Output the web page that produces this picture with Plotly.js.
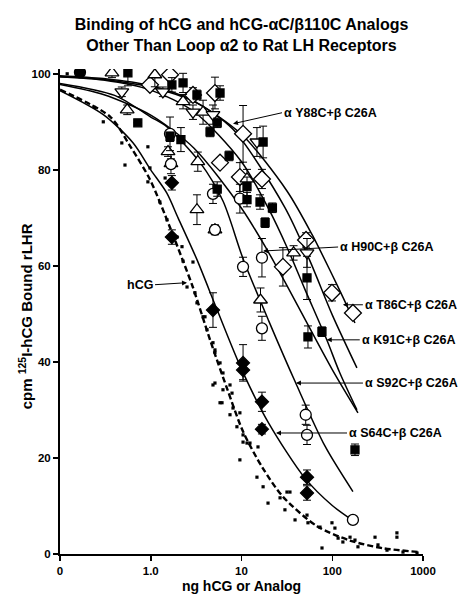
<!DOCTYPE html>
<html><head><meta charset="utf-8">
<script src="https://cdn.plot.ly/plotly-3.0.1.min.js"></script>
<style>body{margin:0;background:#fff}</style>
</head><body><div id="chart" style="width:459px;height:594px"></div>
<script>
// ---- hCG (small dots) ----
const hcgDotX = [0.12,0.24,0.3,0.48,0.52,0.93,0.93,0.98,1.44,1.26,1.51,1.95,2.21,2.27,2.92,2.51,3.07,3.23,3.77,4.17,4.85,5.1,5.8,6.25,4.85,7.47,6.1,7.86,8.06,9.6,8.9,10.4,11.5,3.96,5.1,5.1,6.25,5.8,7.47,10.4,12.4,15.2,9.6,14.8,17.3,19.6,26.6,31.7,34.2,30.1,38.9,52.7,54,73.3,77.1,99.3,107,116,131,157,178,192,296,319,516,516,401,602,859];
const hcgDotY = [100,93,90,85.6,81,84.8,77.5,80.4,78.3,73.3,69.6,66,64,61,60.8,55.6,54.4,52.3,49.4,46.7,44,42.5,39.8,37.7,35.2,35.2,31.5,33.5,30.4,29.4,26.5,24.8,23.1,49.4,42,35.6,34.2,31.5,29,23.3,23.1,22.3,19.6,16,14,10.6,11.7,12.9,12.9,9.2,7.1,8.1,6.5,5.6,1.25,6.5,5.4,3.3,2.5,3.5,2.9,1.5,3.5,1.9,4.4,3.5,0.8,0.4,0.2];
const hcgMeanX = [0.166];
const hcgMeanY = [100.3];
const hcgCurveX = [0.1,0.36,0.59,0.98,1.63,2.27,2.92,4.5,6.92,10.4,17,28.7,67.9,157,362,927];
const hcgCurveY = [96.7,91,85,78,68,61,55.5,44.6,34.5,25.5,18,11.9,5.8,2.8,1.2,0.4];

// ---- αS64C+βC26A (filled diamonds) ----
const s64X = [1.71,1.71,4.85,10.4,10.4,16.8,16.8,52.7,52.7];
const s64Y = [77.3,66,50.8,39.8,38.3,31.7,26,16,12.7];
const s64E = [1.5,1.5,3.6,3.8,2,2,1,1.5,1.5];
const s64CurveX = [0.1,0.3,0.64,1,1.5,2,3.23,5.4,10,20,50,100,165];
const s64CurveY = [96.5,91.5,85.6,80,75.2,70,61.3,50.8,38.5,27.2,15.8,10.1,7.1];

// ---- αS92C+βC26A (open circles) ----
const s92X = [1.63,1.67,4.85,5.1,9.6,10.4,16.8,16.8,51,52.7,169];
const s92Y = [87.5,81.2,75,67.5,74,59.8,61.7,47,29,24.8,7.1];
const s92E = [3.5,2,2,1,3,2,4,2.5,2,2,0.5];
const s92CurveX = [0.1,0.4,1,1.5,3.5,6.25,10.4,20,39.6,83,169];
const s92CurveY = [98,95.5,91,89,81.5,73.5,61.5,48.5,35.6,22.5,13];

// ---- αK91C+βC26A (filled squares) ----
const k91X = [0.56,0.72,1.71,2.27,3.23,5.8,5.4,4.5,17.3,7.3,11.5,11.5,16,21.9,1.63,2.15,5.4,18.2,52.7,54,77,178];
const k91Y = [100.2,89.8,97.7,98.1,95.6,96,89.8,87.9,85.8,82.9,76.5,73.8,73.3,72.1,86.9,86.3,76,69,57.5,45.2,46.3,21.7];
const k91E = [2.7,0,1.5,2,1,1.5,1,1,3.3,1,2,1.5,1.5,1,1,2.5,1.5,1,4.5,2.3,1,1.2];
const k91CurveX = [0.1,0.3,1,3,10,20,32.7,50,87,120,187];
const k91CurveY = [99.4,98.7,96.6,92.1,81.7,71.8,63.3,55.1,44.6,37.9,30];

// ---- αT86C+βC26A (open diamonds) ----
const t86X = [0.98,1.63,2.92,5.1,10.4,5.8,9.6,16.8,51.4,28.6,99.3,169];
const t86Y = [97.7,99.8,95.6,96,87.5,81.5,78.5,78.1,65.4,59.8,54.4,50.2];
const t86E = [1,0.8,1.5,3.3,5.9,1,3,2,1.5,4,1.7,0.8];
const t86CurveX = [0.1,0.3,1,3,10,31.7,60,100,131,178];
const t86CurveY = [99.4,98.8,97.2,94.2,87.4,75.6,66.5,58.1,53.5,48.1];

// ---- αH90C+βC26A (open triangles) ----
const h90X = [0.374,1.11,0.55,2.27,3.77,1.55,1.67,3.3,11.5,3.23,5.1,16.2,37.5];
const h90Y = [100.2,99.8,92.5,94.2,92,83.8,81.3,81.7,78.1,71.7,67.5,52.9,62.7];
const h90E = [1,2.5,1,1.5,2.5,1,1,2,2,3.1,1,2.5,1.5];
const h90CurveX = [0.1,0.3,1,3,10,19.2,30,50,100,192];
const h90CurveY = [97.8,95.7,91.4,84.5,72,63.3,56.7,48.9,38.4,29.4];

// ---- αY88C+βC26A (open inverted triangles) ----
const y88X = [0.48,1.36,2.92,4.85,14.8,52.7];
const y88Y = [96.25,96.25,92,91.5,85.8,62.7];
const y88E = [1,1,1.5,2,3,3];
const y88CurveX = [0.1,0.3,1,3,8,30,56,100,187];
const y88CurveY = [99.6,99,97.5,94.3,88.5,72.2,61.3,49.8,38.75];

// ---- labels ----
const labelText = ['α Y88C+β C26A','α H90C+β C26A','α T86C+β C26A','α K91C+β C26A','α S92C+β C26A','α S64C+β C26A','hCG'];
const labelTipX = [8.06,17.3,131,87,39.8,24,2.51];
const labelTipY = [89.6,63.1,51.9,44.6,35.6,25.2,56.5];

const K = '#000';
function curve(x, y, dash) {
  return {x:x, y:y, type:'scatter', mode:'lines', line:{color:K, width:dash?2.4:1.5, dash:dash?'6px,3px':'solid', shape:'spline', smoothing:0.8}, hoverinfo:'skip', showlegend:false};
}
function pts(x, y, e, sym, size, fill) {
  const t = {x:x, y:y, type:'scatter', mode:'markers', showlegend:false,
    marker:{symbol:sym, size:size, color:fill, line:{color:K, width:1.3}}};
  if (e) t.error_y = {type:'data', array:e, visible:true, color:K, thickness:1, width:4};
  return t;
}
const traces = [
  curve(hcgCurveX, hcgCurveY, true),
  curve(s64CurveX, s64CurveY), curve(s92CurveX, s92CurveY), curve(k91CurveX, k91CurveY),
  curve(t86CurveX, t86CurveY), curve(h90CurveX, h90CurveY), curve(y88CurveX, y88CurveY),
  {x:hcgDotX, y:hcgDotY, type:'scatter', mode:'markers', showlegend:false, marker:{symbol:'square', size:3.2, color:K}},
  pts(hcgMeanX, hcgMeanY, [0.6], 'circle', 11, K),
  pts(t86X, t86Y, t86E, 'diamond', 13, '#fff'),
  pts(h90X, h90Y, h90E, 'triangle-up', 12, '#fff'),
  pts(y88X, y88Y, y88E, 'triangle-down', 12, '#fff'),
  pts(s92X, s92Y, s92E, 'circle', 11, '#fff'),
  pts(k91X, k91Y, k91E, 'square', 8, K),
  pts(s64X, s64Y, s64E, 'diamond', 10, K)
];
const labelDX = [49,75,20,33,67,71,-32];
const labelDY = [-11,-4,0,0,0,0,2];
const F = 'Liberation Sans, Arial, sans-serif';
const anns = labelText.map((t,i)=>({
  x: Math.log10(labelTipX[i]), y: labelTipY[i], xref:'x', yref:'y', text:'<b>'+t+'</b>',
  showarrow:true, arrowhead:2, arrowsize:1, arrowwidth:1, arrowcolor:K,
  axref:'pixel', ayref:'pixel', ax:labelDX[i], ay:labelDY[i],
  xanchor: i===6 ? 'right' : 'left', yanchor:'middle',
  font:{family:F, size:12.5, color:K}
}));
anns.push({xref:'paper', yref:'paper', x:-35/363, y:0.49, xanchor:'center', yanchor:'middle',
  textangle:-90, showarrow:false, text:'<b>cpm <sup>125</sup>I-hCG Bound rLHR</b>',
  font:{family:F, size:15, color:K}});
const layout = {
  width:459, height:594, margin:{l:60, r:36, t:69, b:40},
  paper_bgcolor:'#fff', plot_bgcolor:'#fff',
  title:{text:'<b>Binding of hCG and hCG-αC/β110C Analogs<br>Other Than Loop α2 to Rat LH Receptors</b>',
    font:{family:F, size:16, color:K}, xref:'paper', x:0.5, xanchor:'center', yref:'container', y:1-30/594, yanchor:'middle'},
  xaxis:{type:'log', range:[-1,3], tickvals:[0.1,1,10,100,1000], ticktext:['0','1.0','10','100','1000'],
    ticks:'outside', ticklen:5, tickwidth:1.5, tickcolor:K, showline:true, linewidth:2, linecolor:K,
    showgrid:false, zeroline:false, tickfont:{family:F, size:11.5, color:K, weight:'bold'},
    title:{text:'<b>ng hCG or Analog</b>', font:{family:F, size:14, color:K}, standoff:21}},
  yaxis:{range:[0,101], tickvals:[0,20,40,60,80,100], ticks:'outside', ticklen:5, tickwidth:1.5, tickcolor:K,
    showline:true, linewidth:2, linecolor:K, showgrid:false, zeroline:false,
    tickfont:{family:F, size:11.5, color:K, weight:'bold'}},
  annotations: anns
};
Plotly.newPlot('chart', traces, layout, {displayModeBar:false, staticPlot:true});
</script></body></html>
